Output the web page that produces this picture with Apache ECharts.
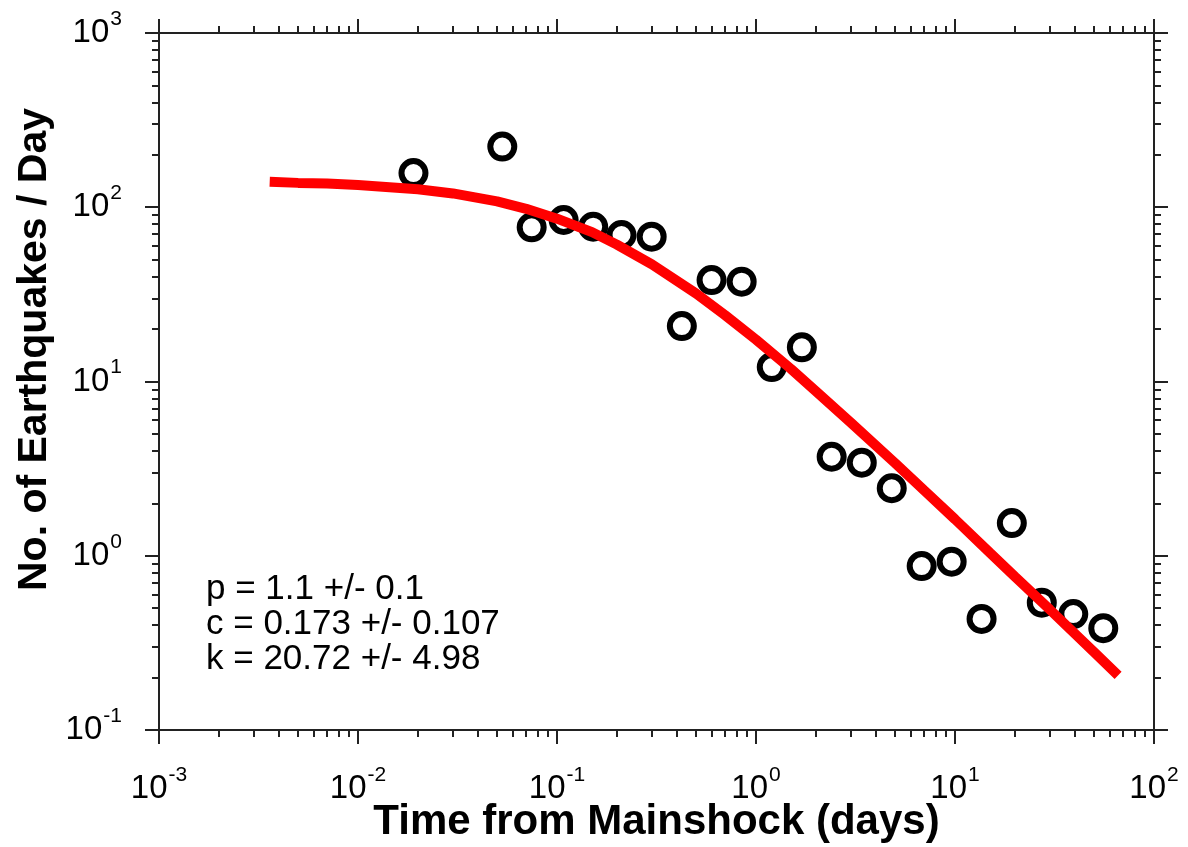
<!DOCTYPE html>
<html>
<head>
<meta charset="utf-8">
<script src="https://cdn.jsdelivr.net/npm/echarts@6/dist/echarts.min.js"></script>
<style>
  html, body { margin: 0; padding: 0; background: #fff; }
  #chart { width: 1188px; height: 847px; }
</style>
</head>
<body>
<div id="chart"></div>
<script>
// Observed aftershock rates (binned)
const timeDays = [0.0190, 0.0531, 0.0746, 0.108, 0.152, 0.211, 0.299, 0.424, 0.598, 0.847,
                  1.20, 1.70, 2.40, 3.40, 4.81, 6.80, 9.62, 13.6, 19.3, 27.3, 39.3, 55.6];
const ratePerDay = [157, 223, 76.7, 84.5, 77.3, 69.3, 67.8, 20.8, 38.2, 37.4,
                    12.1, 15.7, 3.70, 3.42, 2.44, 0.873, 0.925, 0.434, 1.54, 0.538, 0.463, 0.384];

// Fitted Omori curve
const fitTime = [0.0036, 0.005, 0.007, 0.01, 0.015, 0.02, 0.03, 0.05, 0.07, 0.1, 0.15, 0.2, 0.3,
                 0.5, 0.7, 1, 1.5, 2, 3, 5, 7, 10, 15, 20, 30, 50, 66];
const fitRate = [140, 138, 137, 134, 130, 127, 120, 108, 98, 86, 72, 61, 47,
                 32, 24, 17.4, 11.8, 8.8, 5.8, 3.4, 2.37, 1.62, 1.04, 0.76, 0.49, 0.28, 0.206];

// Fit parameter annotation
const fitLabels = ['p = 1.1 +/- 0.1', 'c = 0.173 +/- 0.107', 'k = 20.72 +/- 4.98'];

// Axis ranges (decades)
const xDecades = [-3, -2, -1, 0, 1, 2];
const yDecades = [-1, 0, 1, 2, 3];
const xTitle = 'Time from Mainshock (days)';
const yTitle = 'No. of Earthquakes / Day';

const FONT = '"Liberation Sans", Arial, Helvetica, sans-serif';
const AXIS_COLOR = '#222';

function minorLogs(decades) {
  const out = [];
  for (let i = 0; i < decades.length - 1; i++) {
    for (let k = 2; k <= 9; k++) out.push(decades[i] + Math.log10(k));
  }
  return out;
}

function powLabel(v) {
  const e = Math.round(Math.log10(v));
  return '{b|10}{s|' + e + '}';
}

const richLabel = {
  b: { fontSize: 33, lineHeight: 34, fontFamily: FONT, color: '#000' },
  s: { fontSize: 21, lineHeight: 21, fontFamily: FONT, color: '#000', padding: [0, 0, 28, 1] }
};

const lineStyle = { color: AXIS_COLOR, width: 2 };

function majorLogAxis(pos, min, max, showLabels, extra) {
  return Object.assign({
    type: 'log', logBase: 10, min: min, max: max, position: pos, gridIndex: 0,
    splitNumber: 5,
    axisLine: { show: true, onZero: false, lineStyle: lineStyle },
    axisTick: { show: true, inside: false, length: 14, lineStyle: { color: AXIS_COLOR, width: 2 } },
    axisLabel: showLabels ? { show: true, formatter: powLabel, rich: richLabel } : { show: false },
    splitLine: { show: false },
    minorTick: { show: false }
  }, extra || {});
}

function minorAxis(pos, min, max, decades) {
  return {
    type: 'value', min: min, max: max, position: pos, gridIndex: 1,
    axisLine: { show: false, onZero: false },
    axisTick: { show: true, inside: false, length: 7, customValues: minorLogs(decades),
                lineStyle: { color: AXIS_COLOR, width: 2 } },
    axisLabel: { show: false },
    splitLine: { show: false }
  };
}

const gridBox = { left: 159, right: 34, top: 33, bottom: 117, containLabel: false, outerBoundsMode: 'none' };

const chart = echarts.init(document.getElementById('chart'), null, { renderer: 'canvas' });

const option = {
  backgroundColor: '#ffffff',
  animation: false,
  grid: [Object.assign({}, gridBox), Object.assign({}, gridBox)],
  xAxis: [
    majorLogAxis('bottom', 0.001, 100, true, {
      name: xTitle, nameLocation: 'middle', nameGap: 71, nameMoveOverlap: false,
      nameTextStyle: { fontSize: 42, fontWeight: 'bold', fontFamily: FONT, color: '#000' },
      axisLabel: { show: true, formatter: powLabel, rich: richLabel, margin: 42 }
    }),
    majorLogAxis('top', 0.001, 100, false),
    minorAxis('bottom', xDecades[0], xDecades[xDecades.length - 1], xDecades),
    minorAxis('top', xDecades[0], xDecades[xDecades.length - 1], xDecades)
  ],
  yAxis: [
    majorLogAxis('left', 0.1, 1000, true, {
      name: yTitle, nameLocation: 'middle', nameGap: 104, nameRotate: 90, nameMoveOverlap: false,
      nameTextStyle: { fontSize: 41, fontWeight: 'bold', fontFamily: FONT, color: '#000',
                       padding: [0, 0, 0, 64] },
      axisLabel: { show: true, formatter: powLabel, rich: richLabel, margin: 37 }
    }),
    majorLogAxis('right', 0.1, 1000, false),
    minorAxis('left', yDecades[0], yDecades[yDecades.length - 1], yDecades),
    minorAxis('right', yDecades[0], yDecades[yDecades.length - 1], yDecades)
  ],
  graphic: [{
    type: 'text', left: 206, top: 572, z: 10,
    style: { text: fitLabels.join('\n'), font: '35px ' + FONT, fill: '#000', lineHeight: 35 }
  }],
  series: [
    {
      type: 'scatter', xAxisIndex: 0, yAxisIndex: 0, z: 2,
      data: timeDays.map((t, i) => [t, ratePerDay[i]]),
      symbol: 'circle', symbolSize: 24,
      itemStyle: { color: 'rgba(0,0,0,0)', borderColor: '#000', borderWidth: 6, opacity: 1 },
      emphasis: { disabled: true }
    },
    {
      type: 'line', xAxisIndex: 0, yAxisIndex: 0, z: 3,
      data: fitTime.map((t, i) => [t, fitRate[i]]),
      showSymbol: false, symbol: 'none', smooth: false,
      lineStyle: { color: '#ff0000', width: 10 },
      emphasis: { disabled: true }
    }
  ]
};

chart.setOption(option);
</script>
</body>
</html>
